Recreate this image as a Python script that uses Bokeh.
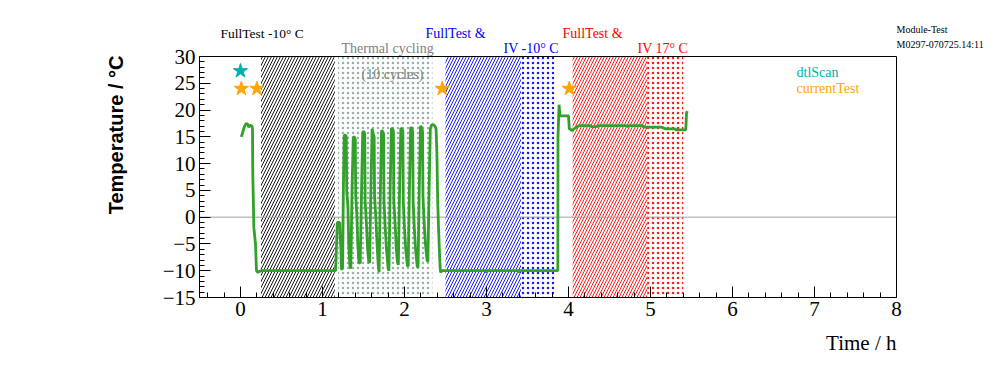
import numpy as np
from bokeh.plotting import figure
from bokeh.models import Range1d, Label, FixedTicker, LinearAxis
from bokeh.embed import file_html
from bokeh.resources import INLINE

# ---- data ----
time_h = [
    0.010, 0.030, 0.050, 0.070, 0.090, 0.100, 0.120, 0.140, 0.146, 0.150, 0.163, 0.183, 0.195, 0.210, 0.250, 0.600, 1.000, 1.160,
    1.165, 1.180, 1.210, 1.215, 1.225, 1.232,
    1.245, 1.255, 1.265, 1.280, 1.290, 1.295, 1.310, 1.320, 1.335, 1.345,
    1.360, 1.375, 1.390, 1.400, 1.405, 1.420, 1.430, 1.445, 1.460,
    1.475, 1.490, 1.505, 1.515, 1.520, 1.535, 1.550, 1.565, 1.575,
    1.590, 1.605, 1.620, 1.630, 1.635, 1.650, 1.665, 1.680, 1.690,
    1.705, 1.720, 1.735, 1.745, 1.750, 1.765, 1.780, 1.800, 1.810,
    1.825, 1.840, 1.855, 1.865, 1.870, 1.885, 1.900, 1.915, 1.925,
    1.940, 1.955, 1.970, 1.980, 1.985, 2.000, 2.015, 2.035, 2.045,
    2.060, 2.075, 2.090, 2.100, 2.105, 2.120, 2.135, 2.155, 2.165,
    2.180, 2.195, 2.210, 2.220, 2.225, 2.240, 2.255, 2.275, 2.285,
    2.300, 2.315, 2.330, 2.350, 2.370, 2.385, 2.395, 2.405, 2.415, 2.425, 2.435, 2.440, 2.460,
    2.990, 3.000, 3.010, 3.380, 3.390, 3.400, 3.870,
    3.872, 3.885, 3.895, 3.905, 3.930, 4.000, 4.010, 4.045, 4.085, 4.130, 4.270, 4.280, 4.350,
    4.370, 4.700, 4.720, 4.740, 4.900, 4.920, 5.140, 5.180, 5.300, 5.310, 5.430, 5.440, 5.450,
]
temp_c = [
    15.0, 16.0, 17.0, 17.5, 17.3, 16.8, 17.2, 17.0, 16.5, 8.0, -2.0, -5.0, -10.0, -10.3, -10.0, -10.0, -10.0, -10.0,
    -8.0, -1.0, -1.0, -3.5, -6.0, -9.8,
    -9.5, 5.5, 15.3, 15.3, 15.0, 5.0, 2.0, -5.0, -9.3, -9.6,
    5.0, 14.9, 15.0, 14.5, 4.0, 0.0, -5.0, -8.5, -8.6,
    4.0, 15.9, 16.0, 15.5, 3.0, -1.0, -6.0, -8.4, -8.5,
    5.0, 16.5, 15.5, 15.0, 4.0, 0.0, -5.0, -9.0, -10.3,
    4.0, 16.2, 16.0, 15.5, 3.0, -2.0, -6.0, -9.5, -10.0,
    5.0, 16.6, 16.5, 16.0, 3.0, -1.0, -6.0, -8.5, -8.9,
    5.0, 16.6, 16.5, 16.0, 3.0, -2.0, -6.0, -9.0, -9.2,
    5.0, 16.8, 16.6, 16.0, 3.0, -2.0, -6.0, -9.2, -9.4,
    5.0, 17.0, 16.8, 16.0, 4.0, -1.0, -5.0, -8.0, -8.3,
    5.0, 16.5, 17.2, 17.3, 17.0, 16.5, 12.0, 3.0, -2.0, -6.0, -9.5, -10.3, -10.0,
    -10.0, -10.3, -10.0, -10.0, -10.3, -10.0, -10.0,
    15.0, 21.0, 19.0, 18.9, 18.9, 18.9, 16.5, 16.2, 16.7, 17.1, 17.1, 16.9, 16.9,
    17.1, 17.1, 16.9, 17.1, 17.1, 16.8, 16.8, 16.5, 16.5, 16.3, 16.3, 19.5, 19.8,
]

dtl_x = [0.0]
dtl_y = [27.3]
cur_x = [0.01, 0.20, 2.46, 4.01]
cur_y = [24.0, 24.0, 24.0, 24.0]

band_left = [0.25, 1.19, 2.50, 3.42, 4.05, 4.96]
band_right = [1.15, 2.34, 3.42, 3.83, 4.96, 5.40]
band_pattern = ["right_diagonal_line", "dot", "right_diagonal_line", "dot", "right_diagonal_line", "dot"]
band_color = ["black", "#8aa89e", "blue", "blue", "red", "red"]

x_ticks = [0, 1, 2, 3, 4, 5, 6, 7, 8]
y_ticks = [-15, -10, -5, 0, 5, 10, 15, 20, 25, 30]

# ---- layout ----
W, H = 992, 356
FL, FR, FT, FB = 199, 896, 56, 297          # axes box in canvas pixels
X_LO, X_HI, Y_LO, Y_HI = -0.5, 8.0, -15.0, 30.0
KX = (FR - FL) / (X_HI - X_LO)
KY = (FB - FT) / (Y_HI - Y_LO)

def px2x(px):
    return X_LO + (px - FL) / KX

def py2y(py):
    return Y_HI - (py - FT) / KY

SERIF = "Liberation Serif"
SANS = "Liberation Sans"

p = figure(width=W, height=H, output_backend="svg", toolbar_location=None,
           x_range=Range1d(px2x(0), px2x(W)), y_range=Range1d(py2y(H), py2y(0)),
           x_axis_location=None, y_axis_location=None,
           min_border_left=0, min_border_right=0, min_border_top=0, min_border_bottom=0)
p.xgrid.visible = False
p.ygrid.visible = False
p.outline_line_color = None
p.background_fill_color = "white"
p.border_fill_color = "white"

for i in range(len(band_left)):
    is_dot = band_pattern[i] == "dot"
    p.quad(left=[band_left[i]], right=[band_right[i]], bottom=[Y_LO], top=[Y_HI],
           fill_alpha=0, line_alpha=0, hatch_pattern=band_pattern[i],
           hatch_color=band_color[i], hatch_scale=5 if is_dot else 6,
           hatch_weight=0.9 if is_dot else 1.0, hatch_alpha=0.9)

# zero line
p.line([X_LO, X_HI], [0, 0], line_color="#a0a0a0", line_width=1)

p.line(time_h, temp_c, line_color="#33a02c", line_width=2.8)

p.scatter(dtl_x, dtl_y, marker="star", size=15, fill_color="#00b0b0", line_color="#00b0b0")
p.scatter(cur_x, cur_y, marker="star", size=15, fill_color="#ffa500", line_color="#ffa500")

# frame box (top and right edges)
p.quad(left=[X_LO], right=[X_HI], bottom=[Y_LO], top=[Y_HI], fill_alpha=0,
       line_color="black", line_width=1)

# axes drawn at the box edges
xax = LinearAxis(fixed_location=Y_LO, bounds=(X_LO, X_HI))
yax = LinearAxis(fixed_location=X_LO, bounds=(Y_LO, Y_HI))
for ax in (xax, yax):
    ax.axis_line_color = "black"
    ax.major_tick_line_color = "black"
    ax.minor_tick_line_color = "black"
    ax.major_tick_in = 11
    ax.major_tick_out = 0
    ax.minor_tick_in = 5
    ax.minor_tick_out = 0
    ax.major_label_text_font = SERIF
    ax.major_label_text_font_size = "21px"
    ax.major_label_text_color = "black"
    ax.major_label_standoff = 4
xax.ticker = FixedTicker(ticks=x_ticks, minor_ticks=list(np.arange(-0.4, 8.0, 0.2)))
yax.ticker = FixedTicker(ticks=y_ticks, minor_ticks=list(range(-15, 31)))
p.add_layout(xax, "below")
p.add_layout(yax, "left")

def lab(px, py, t, color="black", size="14px", font=SERIF, align="left", style="normal",
        angle=0.0, baseline="alphabetic"):
    p.add_layout(Label(x=px2x(px), y=py2y(py), text=t, text_color=color, text_font_size=size,
                       text_font=font, text_align=align, text_font_style=style, angle=angle,
                       text_baseline=baseline))

lab(115, 55, "Temperature / °C", size="20px", font=SANS, style="bold", align="right",
    angle=np.pi / 2, baseline="middle")
lab(896, 342, "Time / h", size="21px", align="right")
lab(220, 33, "FullTest -10° C", size="13.5px")
lab(341, 48, "Thermal cycling", color="#808080")
lab(425, 33, "FullTest &", color="blue")
lab(503, 48, "IV -10° C", color="blue")
lab(562, 33, "FullTest &", color="red")
lab(637, 48, "IV 17° C", color="red")
lab(896, 29, "Module-Test", size="10px")
lab(896, 43.5, "M0297-070725.14:11", size="10px")
lab(361, 74, "(10 cycles)", color="#808080")
lab(796, 72, "dtlScan", color="#00b0b0")
lab(796, 88, "currentTest", color="#ffa500")

open("out.html", "w").write(file_html(p, INLINE))
